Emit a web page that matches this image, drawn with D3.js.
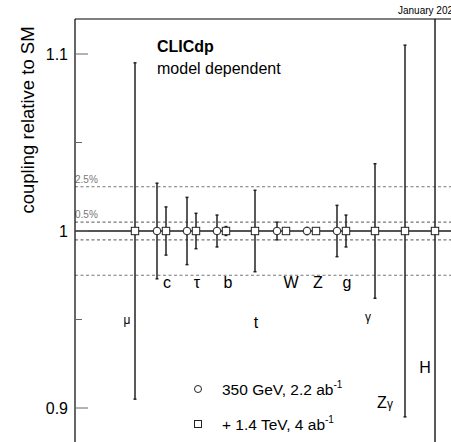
<!DOCTYPE html>
<html>
<head>
<meta charset="utf-8">
<script src="https://cdn.jsdelivr.net/npm/d3@7"></script>
<style>
  body { margin: 0; background: #fff; }
  svg { display: block; font-family: "Liberation Sans", Arial, sans-serif; }
</style>
</head>
<body>
<div id="chart"></div>
<script>
// Datos: acoplamientos y errores relativos (fraccion) para cada escenario
var particles = ["μ", "c", "τ", "b", "t", "W", "Z", "g", "γ", "Zγ", "H"];
var err350  = [null, 0.027, 0.019, 0.009, null, 0.005, 0.002, 0.0145, null, null, null];
var err1400 = [0.095, 0.0136, 0.010, 0.0025, 0.023, 0.001, 0.001, 0.009, 0.038, 0.105, 0.25];
var bandLevels = [0.025, 0.005];
var bandLabels = ["2.5%", "0.5%"];
var yTicks = [0.9, 1, 1.1];
var yMinorTicks = [0.95, 1.05];
var legendLabels = ["350 GeV, 2.2 ab", "+ 1.4 TeV, 4 ab"];

// Posicion de las etiquetas (en unidades del eje)
var labelDx = [-8, 2, 2, 3, 1, 6, 3, 2, -7, -20, -10];
var labelY  = [0.950, 0.9712, 0.9712, 0.9712, 0.9486, 0.9712, 0.9712, 0.9712, 0.9514, 0.903, 0.923];
var labelSize = [12, 16, 16, 16, 16, 16, 16, 16, 12, 16, 16];

var width = 451, height = 442;
var frameLeft = 75, frameTop = 19;

var svg = d3.select("#chart").append("svg")
  .attr("width", width).attr("height", height);

var y = d3.scaleLinear().domain([0.9, 1.1]).range([408, 54]);
var x = d3.scaleLinear().domain([0, particles.length - 1]).range([135, 435]);

// clip del marco
svg.append("clipPath").attr("id", "frame")
  .append("rect").attr("x", frameLeft).attr("y", frameTop)
  .attr("width", width - frameLeft).attr("height", height - frameTop);

var plot = svg.append("g").attr("clip-path", "url(#frame)");

// Lineas discontinuas de referencia
bandLevels.forEach(function(b, i) {
  [1 + b, 1 - b].forEach(function(v) {
    plot.append("line")
      .attr("x1", frameLeft).attr("x2", width)
      .attr("y1", y(v)).attr("y2", y(v))
      .attr("stroke", "#777").attr("stroke-width", 1.2)
      .attr("stroke-dasharray", "3,2.5");
  });
  svg.append("text")
    .attr("x", frameLeft).attr("y", y(1 + b) - 4)
    .attr("font-size", 10).attr("fill", "#777")
    .text(bandLabels[i]);
});

// Linea SM
plot.append("line")
  .attr("x1", frameLeft).attr("x2", width)
  .attr("y1", y(1)).attr("y2", y(1))
  .attr("stroke", "#555").attr("stroke-width", 2);

// Puntos con barras de error
var points = [];
particles.forEach(function(p, i) {
  var both = err350[i] !== null;
  if (both) points.push({ i: i, err: err350[i], kind: "circle", dx: -8 });
  points.push({ i: i, err: err1400[i], kind: "square", dx: both ? 1 : 0 });
});

var bars = plot.selectAll(".bar").data(points).enter().append("g");
bars.append("line")
  .attr("x1", function(d) { return x(d.i) + d.dx; })
  .attr("x2", function(d) { return x(d.i) + d.dx; })
  .attr("y1", function(d) { return y(1 + d.err); })
  .attr("y2", function(d) { return y(1 - d.err); })
  .attr("stroke", "#222").attr("stroke-width", 1.5);
[1, -1].forEach(function(s) {
  bars.append("line")
    .attr("x1", function(d) { return x(d.i) + d.dx - 1.5; })
    .attr("x2", function(d) { return x(d.i) + d.dx + 1.5; })
    .attr("y1", function(d) { return y(1 + s * d.err); })
    .attr("y2", function(d) { return y(1 + s * d.err); })
    .attr("stroke", "#222").attr("stroke-width", 1.5);
});

bars.filter(function(d) { return d.kind === "circle"; })
  .append("circle")
  .attr("cx", function(d) { return x(d.i) + d.dx; })
  .attr("cy", y(1)).attr("r", 3.8)
  .attr("fill", "#fff").attr("stroke", "#222").attr("stroke-width", 1);
bars.filter(function(d) { return d.kind === "square"; })
  .append("rect")
  .attr("x", function(d) { return x(d.i) + d.dx - 3.7; })
  .attr("y", y(1) - 3.7).attr("width", 7.4).attr("height", 7.4)
  .attr("fill", "#fff").attr("stroke", "#222").attr("stroke-width", 1);

// Etiquetas de particulas
particles.forEach(function(p, i) {
  var t = svg.append("text")
    .attr("x", x(i) + labelDx[i]).attr("y", y(labelY[i]))
    .attr("dy", "0.35em").attr("text-anchor", "middle")
    .attr("font-size", labelSize[i]).attr("fill", "#000");
  if (p === "Zγ") {
    t.append("tspan").text("Z");
    t.append("tspan").attr("font-size", 12).text("γ");
  } else {
    t.text(p);
  }
});

// Marco y eje
svg.append("line").attr("x1", frameLeft).attr("x2", width)
  .attr("y1", frameTop).attr("y2", frameTop).attr("stroke", "#000").attr("stroke-width", 1.2);
svg.append("line").attr("x1", frameLeft).attr("x2", frameLeft)
  .attr("y1", frameTop).attr("y2", height).attr("stroke", "#000").attr("stroke-width", 1.2);

yTicks.forEach(function(v) {
  svg.append("line").attr("x1", frameLeft).attr("x2", frameLeft + 13)
    .attr("y1", y(v)).attr("y2", y(v)).attr("stroke", "#666").attr("stroke-width", 1);
  svg.append("text").attr("x", 68).attr("y", y(v)).attr("dy", "0.35em")
    .attr("text-anchor", "end").attr("font-size", 16).text(d3.format("")(v));
});
yMinorTicks.forEach(function(v) {
  svg.append("line").attr("x1", frameLeft).attr("x2", frameLeft + 7)
    .attr("y1", y(v)).attr("y2", y(v)).attr("stroke", "#666").attr("stroke-width", 1);
});

svg.append("text")
  .attr("transform", "translate(34,120) rotate(-90)")
  .attr("text-anchor", "middle").attr("font-size", 18.5)
  .text("coupling relative to SM");

// Textos
svg.append("text").attr("x", 157).attr("y", 52)
  .attr("font-size", 16).attr("font-weight", "bold").text("CLICdp");
svg.append("text").attr("x", 157).attr("y", 74)
  .attr("font-size", 16).text("model dependent");
svg.append("text").attr("x", 398).attr("y", 14)
  .attr("font-size", 10).text("January 2020");

// Leyenda
var legY = [389, 424];
legendLabels.forEach(function(l, i) {
  if (i === 0) {
    svg.append("circle").attr("cx", 198).attr("cy", legY[i]).attr("r", 3.5)
      .attr("fill", "#fff").attr("stroke", "#222");
  } else {
    svg.append("rect").attr("x", 194.5).attr("y", legY[i] - 3.5)
      .attr("width", 7).attr("height", 7)
      .attr("fill", "#fff").attr("stroke", "#222");
  }
  var t = svg.append("text").attr("x", 222).attr("y", legY[i] + 6).attr("font-size", 15.5);
  t.append("tspan").text(l);
  t.append("tspan").attr("font-size", 10).attr("dy", -7).text("-1");
});
</script>
</body>
</html>
